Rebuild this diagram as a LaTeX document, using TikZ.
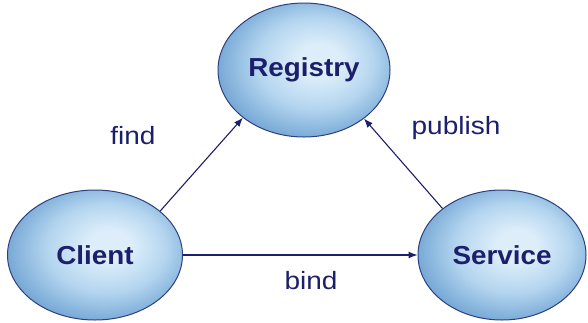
\documentclass[tikz,border=0pt]{standalone}
\usepackage{fontspec}
\setmainfont{Liberation Sans}
\usetikzlibrary{shapes.geometric,arrows.meta}
\definecolor{navy}{HTML}{1C1F6B}
\definecolor{rim}{HTML}{2E3F80}
\definecolor{fillin}{HTML}{DDEEFA}
\definecolor{fillmid}{HTML}{B4D5EF}
\definecolor{fillout}{HTML}{7AABD7}
% soft bubble fill, lightest a little above and right of centre
\pgfdeclareradialshading{bubble}{\pgfpoint{5bp}{4bp}}{%
  color(0bp)=(fillin); color(6bp)=(fillin); color(17bp)=(fillmid);
  color(27bp)=(fillout); color(50bp)=(fillout)}
% wide glyphs for the role names and the labels
\newcommand\widebold[1]{\scalebox{1.07}[1]{#1}}
\newcommand\widetag[1]{\scalebox{1.12}[1]{#1}}
\tikzset{
  role/.style={ellipse, draw=rim, line width=1pt, shade, shading=bubble,
    minimum width=172pt, minimum height=132pt, inner sep=0pt,
    font=\fontsize{26}{30}\selectfont\bfseries, text=navy},
  link/.style={draw=navy, line width=1.1pt, -{Latex[length=9pt,width=7pt]}},
  tag/.style={font=\fontsize{25}{30}\selectfont, text=navy}
}
\begin{document}
\begin{tikzpicture}[x=1pt,y=-1pt]
  \useasboundingbox (0,0) rectangle (588,322);
  % the three roles
  \node[role, minimum height=134pt] (reg) at (304,70) {\widebold{Registry}};
  \node[role, minimum width=175pt, minimum height=130pt] (cli) at (95,255) {\widebold{Client}};
  \node[role, minimum width=168pt, minimum height=130pt] (svc) at (502,255) {\widebold{Service}};
  % interactions
  \draw[link] (cli.34) -- (reg.218);
  \draw[link] (svc.142) -- (reg.321);
  \draw[link] (cli.east) -- (svc.west);
  % labels
  \node[tag] (lfind) at (133,136) {\widetag{find}};
  \node[tag] (lpub) at (456,128) {\widetag{publish}};
  \node[tag] (lbind) at (311,281) {\widetag{bind}};
\end{tikzpicture}
\end{document}
